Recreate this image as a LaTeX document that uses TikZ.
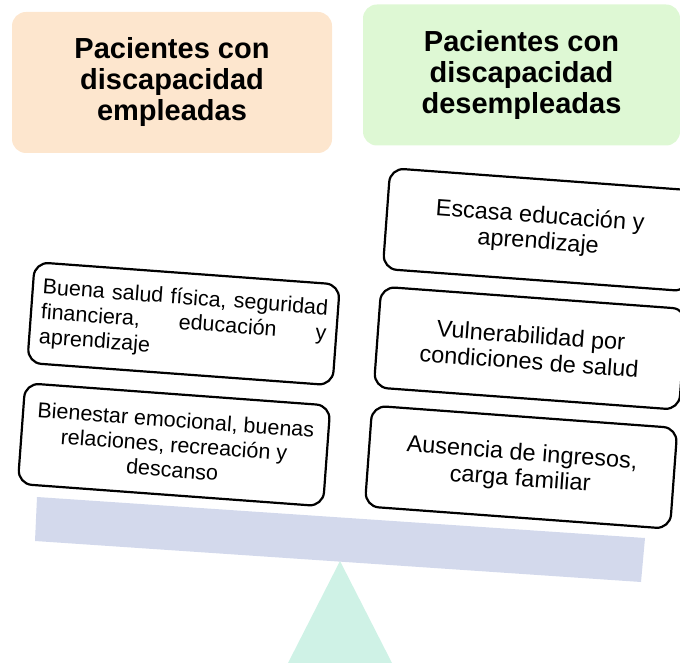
\documentclass[tikz,border=0pt]{standalone}
\usepackage{fontspec}
\setmainfont{Liberation Sans}
\definecolor{peach}{HTML}{FDE6CE}
\definecolor{mintgreen}{HTML}{DEF8D4}
\definecolor{beamblue}{HTML}{D3D9EC}
\definecolor{fulcmint}{HTML}{CFF2E6}
\begin{document}
\begin{tikzpicture}[x=1pt,y=-1pt,
  hdr/.style={rounded corners=14pt, minimum height=141pt, align=center,
    font=\fontsize{29}{31}\selectfont\bfseries, inner sep=0pt},
  card/.style={draw=black, line width=2.2pt, rounded corners=14pt, fill=white,
    minimum width=306pt, minimum height=101pt, rotate=-4.2, align=center, inner sep=0pt},
  lefttext/.style={font=\fontsize{21.5}{25}\selectfont},
  righttext/.style={font=\fontsize{23.5}{26}\selectfont}]
\useasboundingbox (0,0) rectangle (680,663);
% fulcrum and beam
\fill[fulcmint] (340,561) -- (392,663) -- (288,663) -- cycle;
\fill[beamblue] (37,497) -- (645,538) -- (641,582) -- (35,541) -- cycle;
% headers
\node[hdr, fill=peach, minimum width=320pt] (hL) at (172,82.5)
  {Pacientes con\\discapacidad\\empleadas};
\node[hdr, fill=mintgreen, minimum width=317pt] (hR) at (521.5,75)
  {Pacientes con\\discapacidad\\desempleadas};
% left cards
\node[card, lefttext, text width=286pt, align=left] (l1) at (183.6,323.7)
  {\makebox[286pt]{Buena\hfill salud\hfill física,\hfill seguridad}\\
   \makebox[286pt]{financiera,\hfill educación\hfill y}\\
   aprendizaje};
\node[card, lefttext] (l2) at (174.1,444.7)
  {Bienestar emocional, buenas\\relaciones, recreación y\\descanso};
% right cards
\node[card, righttext] (r1) at (539.1,229.7) {Escasa educación y\\aprendizaje};
\node[card, righttext] (r2) at (530.1,348.2) {Vulnerabilidad por\\condiciones de salud};
\node[card, righttext] (r3) at (521.1,467.2) {Ausencia de ingresos,\\carga familiar};
\end{tikzpicture}
\end{document}
